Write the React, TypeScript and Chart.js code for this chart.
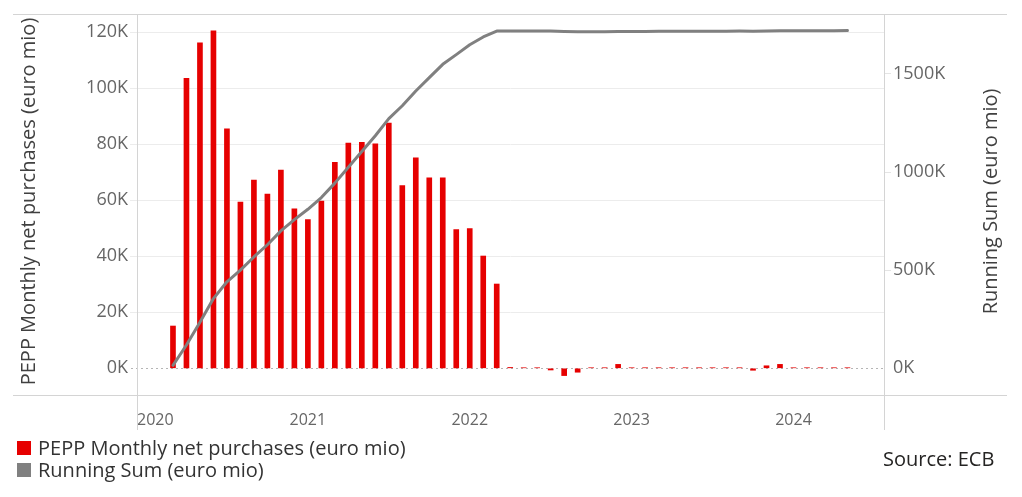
import React, { useEffect, useRef } from "react";
import { Chart, registerables } from "chart.js";

Chart.register(...registerables);

// ---------- data (euro mio) ----------
const months = [
  "2020-03", "2020-04", "2020-05", "2020-06", "2020-07", "2020-08", "2020-09", "2020-10", "2020-11", "2020-12",
  "2021-01", "2021-02", "2021-03", "2021-04", "2021-05", "2021-06", "2021-07", "2021-08", "2021-09", "2021-10", "2021-11", "2021-12",
  "2022-01", "2022-02", "2022-03", "2022-04", "2022-05", "2022-06", "2022-07", "2022-08", "2022-09", "2022-10", "2022-11", "2022-12",
  "2023-01", "2023-02", "2023-03", "2023-04", "2023-05", "2023-06", "2023-07", "2023-08", "2023-09", "2023-10", "2023-11", "2023-12",
  "2024-01", "2024-02", "2024-03", "2024-04", "2024-05",
];

const monthlyNet = [
  15100, 103600, 116200, 120500, 85500, 59400, 67200, 62200, 70800, 57000,
  53100, 59700, 73600, 80400, 80700, 80200, 87600, 65300, 75200, 68000, 68000, 49500,
  49900, 40100, 30100, 300, 200, 200, -600, -2600, -1400, 200, 200, 1400,
  200, 200, 200, 200, 200, 200, 200, 200, 200, -700, 900, 1400,
  200, 200, 200, 200, 200,
];

const runningSum = [
  15100, 118700, 234900, 355400, 440900, 500300, 567500, 629700, 700500, 757500,
  810600, 870300, 943900, 1024300, 1105000, 1185200, 1272800, 1338100, 1413300, 1481300, 1549300, 1598800,
  1648700, 1688800, 1718900, 1719200, 1719400, 1719600, 1719000, 1716400, 1715000, 1715200, 1715400, 1716800,
  1717000, 1717200, 1717400, 1717600, 1717800, 1718000, 1718200, 1718400, 1718600, 1717900, 1718800, 1720200,
  1720400, 1720600, 1720800, 1721000, 1721200,
];

const leftTicks = [0, 20000, 40000, 60000, 80000, 100000, 120000];
const rightTicks = [0, 500000, 1000000, 1500000];
const yearLabels = ["2020", "2021", "2022", "2023", "2024"];
const seriesNames = ["PEPP Monthly net purchases (euro mio)", "Running Sum (euro mio)"];
const leftTitle = "PEPP Monthly net purchases (euro mio)";
const rightTitle = "Running Sum (euro mio)";
const sourceText = "Source: ECB";

// ---------- style / layout ----------
const W = 1022;
const H = 497;
const FONT = "'Open Sans', sans-serif";
const BAR_COLOR = "#E60000";
const LINE_COLOR = "#808080";
const X_MIN = -0.667;
const X_MAX = 54.71;
const Y_MIN = -9536;
const Y_MAX = 126540;
const Y1_MIN = -136100;
const Y1_MAX = 1805800;

const monthIndex = (s: string) => {
  const [y, m] = s.split("-").map(Number);
  return (y - 2020) * 12 + (m - 1);
};

const xTickValues = [
  ...yearLabels.map((y, i) => (i === 0 ? X_MIN : (Number(y) - 2020) * 12)),
  X_MAX,
];
const xTickLabels = [...yearLabels, ""];

const decorPlugin = {
  id: "decor",
  beforeDatasetsDraw(chart: any) {
    const { ctx, chartArea } = chart;
    const y = Math.round(chart.scales.y.getPixelForValue(0)) + 0.5;
    ctx.save();
    ctx.strokeStyle = "#b5b5b5";
    ctx.lineWidth = 1;
    ctx.setLineDash([2, 3]);
    ctx.beginPath();
    ctx.moveTo(chartArea.left - 6, y);
    ctx.lineTo(chartArea.right, y);
    ctx.stroke();
    ctx.restore();
  },
  afterDraw(chart: any) {
    const { ctx, chartArea } = chart;
    ctx.save();
    ctx.strokeStyle = "#d4d4d4";
    ctx.lineWidth = 1;
    const t = Math.round(chartArea.top) + 0.5;
    const b = Math.round(chartArea.bottom) + 0.5;
    const l = Math.round(chartArea.left) + 0.5;
    const r = Math.round(chartArea.right) + 0.5;
    ctx.beginPath();
    ctx.moveTo(13, t); ctx.lineTo(1007, t);
    ctx.moveTo(13, b); ctx.lineTo(1007, b);
    ctx.moveTo(l, t); ctx.lineTo(l, 430);
    ctx.moveTo(r, t); ctx.lineTo(r, 430);
    ctx.stroke();

    const cy = (chartArea.top + chartArea.bottom) / 2 - 3;
    ctx.fillStyle = "#404040";
    ctx.font = `20px ${FONT}`;
    ctx.textAlign = "center";
    ctx.textBaseline = "alphabetic";
    ctx.save();
    ctx.translate(35, cy);
    ctx.rotate(-Math.PI / 2);
    ctx.fillText(leftTitle, 0, 0);
    ctx.restore();
    ctx.save();
    ctx.translate(997, cy);
    ctx.rotate(-Math.PI / 2);
    ctx.fillText(rightTitle, 0, 0);
    ctx.restore();
    ctx.restore();
  },
};

export default function App() {
  const canvasRef = useRef<HTMLCanvasElement | null>(null);

  useEffect(() => {
    document.body.style.margin = "0";
    const canvas = canvasRef.current;
    if (!canvas) return;

    const xs = months.map(monthIndex);
    const chart = new Chart(canvas, {
      type: "bar",
      data: {
        datasets: [
          {
            type: "line",
            label: seriesNames[1],
            data: xs.map((x, i) => ({ x, y: runningSum[i] })),
            yAxisID: "y1",
            borderColor: LINE_COLOR,
            borderWidth: 3,
            pointRadius: 0,
            tension: 0,
            borderCapStyle: "round",
            borderJoinStyle: "round",
            order: 0,
          } as any,
          {
            type: "bar",
            label: seriesNames[0],
            data: xs.map((x, i) => ({ x, y: monthlyNet[i] })),
            yAxisID: "y",
            backgroundColor: BAR_COLOR,
            barThickness: 5,
            maxBarThickness: 5,
            order: 1,
          } as any,
        ],
      },
      options: {
        animation: false,
        responsive: false,
        layout: { padding: { top: 14, left: 0, right: 0, bottom: 0 } },
        plugins: { legend: { display: false }, tooltip: { enabled: false } },
        scales: {
          x: {
            type: "linear",
            offset: false,
            bounds: "data",
            min: X_MIN,
            max: X_MAX,
            grid: { display: false, offset: false },
            border: { display: false },
            afterDataLimits: (scale: any) => {
              scale.min = X_MIN;
              scale.max = X_MAX;
            },
            afterBuildTicks: (scale: any) => {
              scale.ticks = xTickValues.map((v) => ({ value: v }));
            },
            afterFit: (scale: any) => {
              scale.height = H - 395;
            },
            ticks: {
              autoSkip: false,
              maxRotation: 0,
              minRotation: 0,
              align: "inner",
              padding: 8,
              color: "#666666",
              font: { family: FONT, size: 16 },
              callback: (_v: any, i: number) => xTickLabels[i] ?? "",
            },
          } as any,
          y: {
            type: "linear",
            position: "left",
            min: Y_MIN,
            max: Y_MAX,
            afterBuildTicks: (scale: any) => {
              scale.ticks = leftTicks.map((v) => ({ value: v }));
            },
            afterFit: (scale: any) => {
              scale.width = 137;
            },
            grid: {
              color: (c: any) => (c.tick && c.tick.value === 0 ? "rgba(0,0,0,0)" : "#ececec"),
              drawTicks: true,
              tickLength: 7,
            },
            border: { display: false },
            ticks: {
              padding: 2,
              color: "#666666",
              font: { family: FONT, size: 18 },
              callback: (v: any) => `${Number(v) / 1000}K`,
            },
          } as any,
          y1: {
            type: "linear",
            position: "right",
            min: Y1_MIN,
            max: Y1_MAX,
            afterBuildTicks: (scale: any) => {
              scale.ticks = rightTicks.map((v) => ({ value: v }));
            },
            afterFit: (scale: any) => {
              scale.width = W - 884;
            },
            grid: {
              drawOnChartArea: false,
              color: (c: any) => (c.tick && c.tick.value === 0 ? "rgba(0,0,0,0)" : "#e4e4e4"),
              drawTicks: true,
              tickLength: 7,
            },
            border: { display: false },
            ticks: {
              padding: 2,
              color: "#666666",
              font: { family: FONT, size: 18 },
              callback: (v: any) => `${Number(v) / 1000}K`,
            },
          } as any,
        },
      },
      plugins: [decorPlugin],
    });

    return () => chart.destroy();
  }, []);

  const legendText: React.CSSProperties = {
    position: "absolute",
    left: 38,
    font: `20px ${FONT}`,
    lineHeight: "20px",
    color: "#333333",
    whiteSpace: "nowrap",
  };
  const swatch: React.CSSProperties = {
    position: "absolute",
    left: 17,
    width: 14,
    height: 14,
  };

  return (
    <div style={{ position: "relative", width: W, height: H, background: "#ffffff", overflow: "hidden" }}>
      <canvas ref={canvasRef} width={W} height={H} style={{ display: "block", width: W, height: H }} />
      <div style={{ ...swatch, top: 441, background: BAR_COLOR }} />
      <div style={{ ...legendText, top: 437.5 }}>{seriesNames[0]}</div>
      <div style={{ ...swatch, top: 463, background: LINE_COLOR }} />
      <div style={{ ...legendText, top: 459.5 }}>{seriesNames[1]}</div>
      <div style={{ ...legendText, left: 883, top: 449, color: "#252423" }}>{sourceText}</div>
    </div>
  );
}
